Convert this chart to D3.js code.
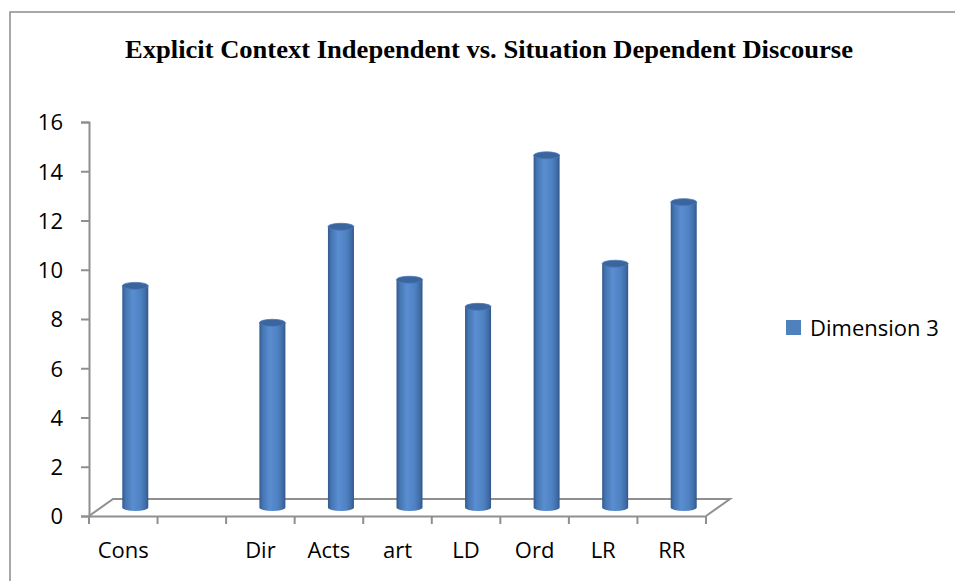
<!DOCTYPE html>
<html>
<head>
<meta charset="utf-8">
<script src="https://cdn.jsdelivr.net/npm/d3@7"></script>
<style>
  body { margin: 0; background: #fff; }
  svg { display: block; }
</style>
</head>
<body>
<div id="chart"></div>
<script>
// chart data
var categories = ["Cons", "", "Dir", "Acts", "art", "LD", "Ord", "LR", "RR"];
var values = [9.0, null, 7.5, 11.4, 9.25, 8.15, 14.3, 9.9, 12.4];
var yTicks = [0, 2, 4, 6, 8, 10, 12, 14, 16];
var seriesName = "Dimension 3";
var title = "Explicit Context Independent vs. Situation Dependent Discourse";

var W = 955, H = 581;
var svg = d3.select("#chart").append("svg")
  .attr("width", W)
  .attr("height", H);

// outer chart border (right / bottom run off the picture)
svg.append("rect")
  .attr("x", 10).attr("y", 12)
  .attr("width", 1000).attr("height", 1000)
  .attr("fill", "none")
  .attr("stroke", "#8c8c8c")
  .attr("stroke-width", 1.5);

// title
svg.append("text")
  .attr("x", 489)
  .attr("y", 58)
  .attr("text-anchor", "middle")
  .attr("font-family", "'Liberation Serif', 'Times New Roman', serif")
  .attr("font-weight", "bold")
  .attr("font-size", 26)
  .attr("textLength", 728)
  .attr("lengthAdjust", "spacingAndGlyphs")
  .attr("fill", "#000")
  .text(title);

// scales
var x = d3.scaleBand().domain(categories).range([89, 706]).padding(0);
var y = d3.scaleLinear().domain([0, 16]).range([516, 122]);

// depth of the 3d floor
var depthX = 24, depthY = 17;
var grey = "#8f8f8f";

// y axis
var yAxis = svg.append("g")
  .attr("transform", "translate(89,0)")
  .call(d3.axisLeft(y).tickValues(yTicks).tickSize(8).tickPadding(18));
yAxis.select(".domain").attr("stroke", grey).attr("stroke-width", 2);
yAxis.selectAll(".tick line").attr("stroke", grey).attr("stroke-width", 2);
yAxis.selectAll(".tick text")
  .attr("font-family", "'Open Sans', sans-serif")
  .attr("font-size", 22)
  .attr("fill", "#000")
  .attr("dy", "0.36em");

// floor
var x0 = x.range()[0], x1 = x.range()[1], yb = y(0);
svg.append("path")
  .attr("d", "M" + x0 + "," + yb + "L" + (x0 + depthX) + "," + (yb - depthY) +
    "L" + (x1 + depthX) + "," + (yb - depthY) + "L" + x1 + "," + yb)
  .attr("fill", "none")
  .attr("stroke", grey)
  .attr("stroke-width", 2);

// x axis (front edge of floor)
var xAxis = svg.append("g")
  .attr("transform", "translate(0," + yb + ")")
  .call(d3.axisBottom(x).tickSize(0).tickPadding(0).tickFormat(""));
xAxis.select(".domain").attr("stroke", grey).attr("stroke-width", 2);
xAxis.selectAll(".tick").remove();

// tick marks at band edges
var edges = categories.map(function (c) { return x(c); }).concat([x1]);
svg.append("g").selectAll("line")
  .data(edges)
  .enter()
  .append("line")
  .attr("x1", function (d) { return d; })
  .attr("x2", function (d) { return d; })
  .attr("y1", yb)
  .attr("y2", yb + 8)
  .attr("stroke", grey)
  .attr("stroke-width", 2);

// category labels
svg.append("g").selectAll("text")
  .data(categories)
  .enter()
  .append("text")
  .attr("x", function (d) { return x(d) + x.bandwidth() / 2; })
  .attr("y", 558)
  .attr("text-anchor", "middle")
  .attr("font-family", "'Open Sans', sans-serif")
  .attr("font-size", 22)
  .attr("fill", "#000")
  .text(function (d) { return d; });

// cylinder gradient
var defs = svg.append("defs");
var grad = defs.append("linearGradient")
  .attr("id", "cyl")
  .attr("x1", "0%").attr("x2", "100%")
  .attr("y1", "0%").attr("y2", "0%");
[["0%", "#33598c"], ["12%", "#4474b2"], ["40%", "#5a8ed1"], ["70%", "#4f82c3"], ["90%", "#3f6ca6"], ["100%", "#30568a"]]
  .forEach(function (s) {
    grad.append("stop").attr("offset", s[0]).attr("stop-color", s[1]);
  });

// bars
var bw = 26, rx = bw / 2, ry = 3.5;
var barData = categories.map(function (c, i) { return { cat: c, v: values[i] }; })
  .filter(function (d) { return d.v != null; });

var bars = svg.append("g").selectAll("g")
  .data(barData)
  .enter()
  .append("g");

bars.append("path")
  .attr("d", function (d) {
    var cx = x(d.cat) + x.bandwidth() / 2 + depthX / 2;
    var top = y(d.v) - depthY / 2, bot = y(0) - depthY / 2;
    var l = cx - rx, r = cx + rx;
    return "M" + l + "," + top + "L" + l + "," + bot +
      "A" + rx + "," + ry + " 0 0 0 " + r + "," + bot +
      "L" + r + "," + top + "Z";
  })
  .attr("fill", "url(#cyl)");

bars.append("ellipse")
  .attr("cx", function (d) { return x(d.cat) + x.bandwidth() / 2 + depthX / 2; })
  .attr("cy", function (d) { return y(d.v) - depthY / 2; })
  .attr("rx", rx)
  .attr("ry", ry)
  .attr("fill", "#3b659f")
  .attr("stroke", "#4a78b6")
  .attr("stroke-width", 0.8);

// legend
svg.append("rect")
  .attr("x", 786).attr("y", 320)
  .attr("width", 15).attr("height", 15)
  .attr("fill", "#4f81bd");
svg.append("text")
  .attr("x", 810)
  .attr("y", 328)
  .attr("dy", "0.36em")
  .attr("font-family", "'Open Sans', sans-serif")
  .attr("font-size", 22)
  .attr("fill", "#000")
  .text(seriesName);
</script>
</body>
</html>
